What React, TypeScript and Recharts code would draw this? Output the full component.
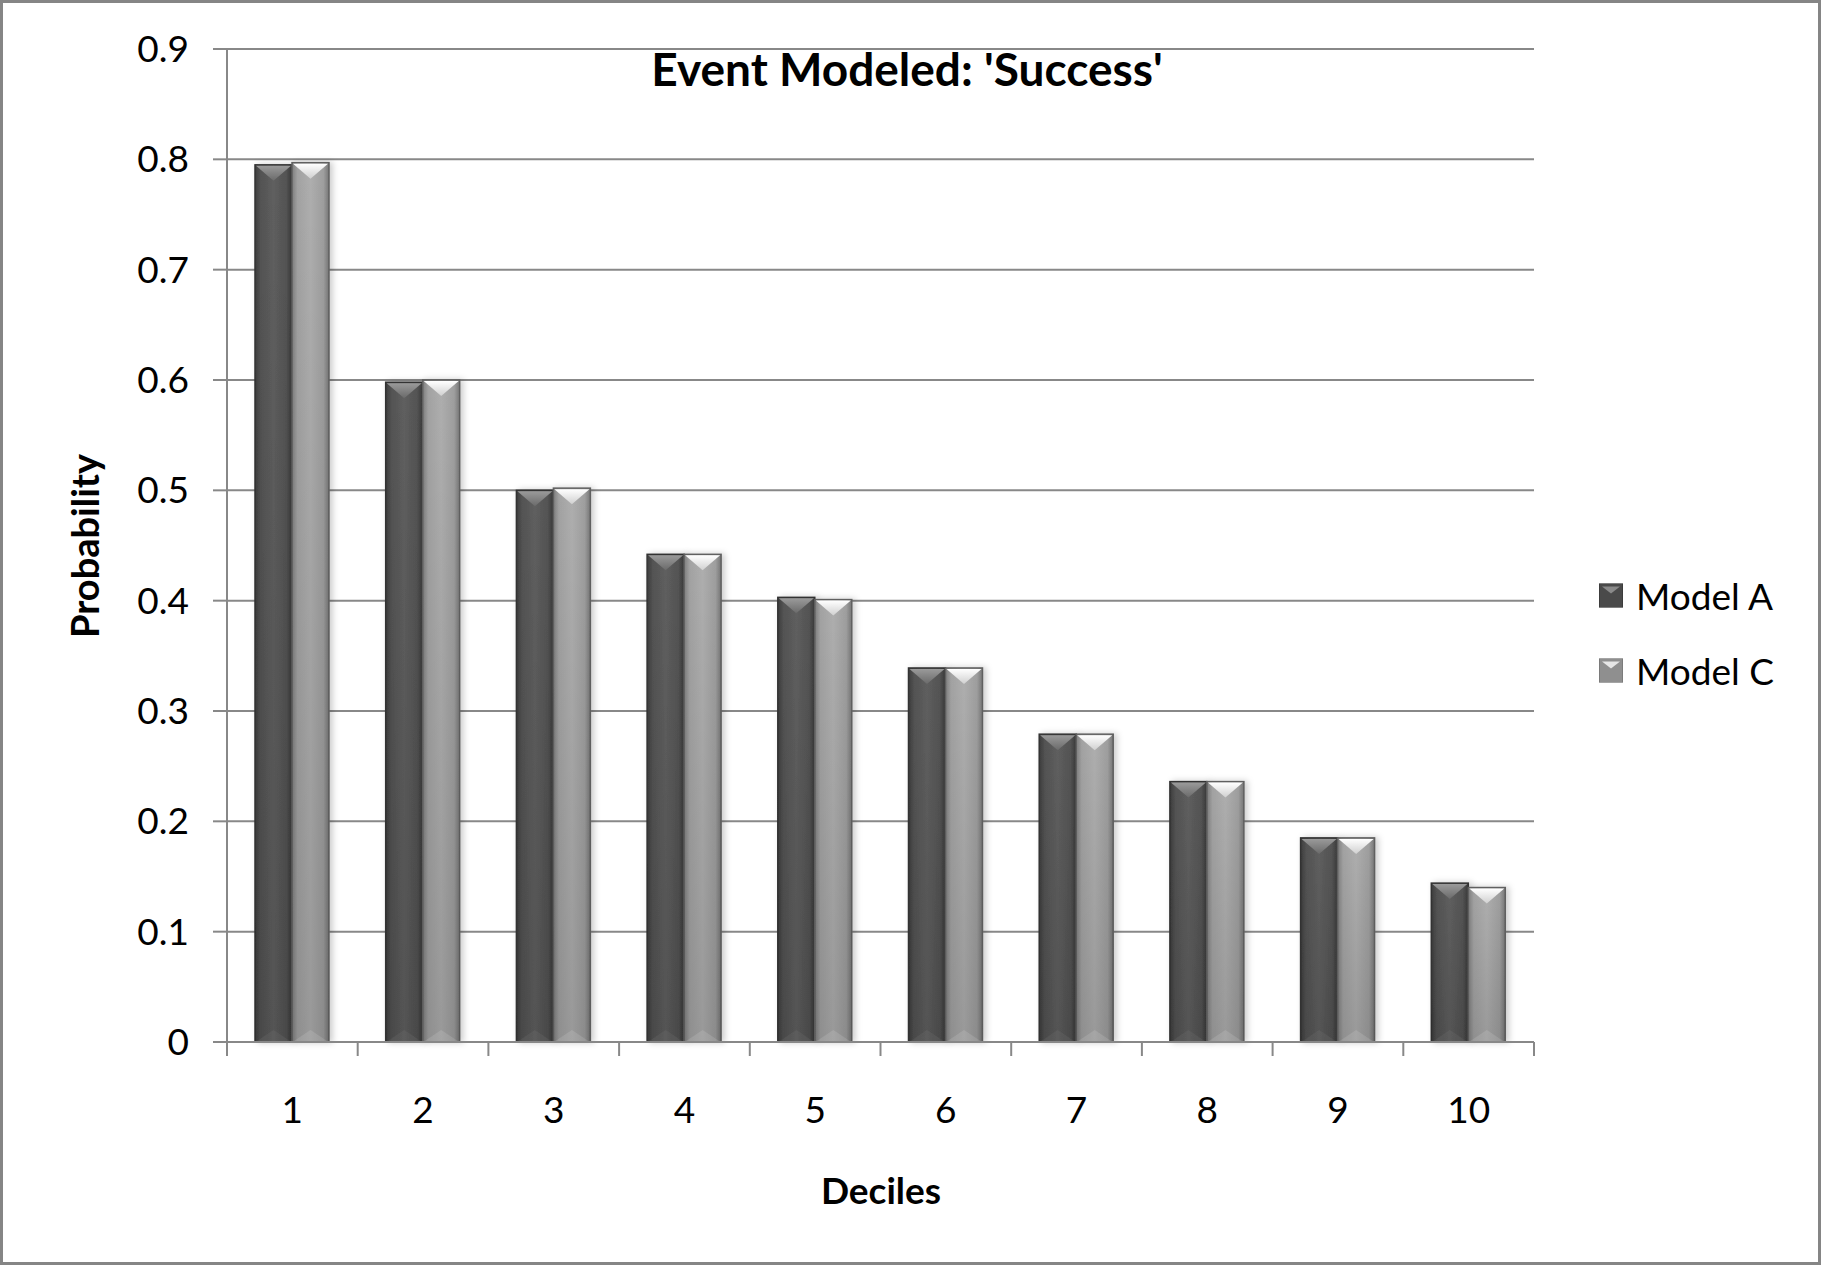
import { BarChart, Bar, XAxis, YAxis, CartesianGrid } from "recharts";

const DECILES = ["1", "2", "3", "4", "5", "6", "7", "8", "9", "10"];
const MODEL_A = [0.795, 0.598, 0.5, 0.442, 0.403, 0.339, 0.279, 0.236, 0.185, 0.144];
const MODEL_C = [0.797, 0.6, 0.502, 0.442, 0.401, 0.339, 0.279, 0.236, 0.185, 0.14];
const Y_TICKS = [0, 0.1, 0.2, 0.3, 0.4, 0.5, 0.6, 0.7, 0.8, 0.9];
const SERIES = ["Model A", "Model C"];

const data = DECILES.map((d, i) => ({ decile: d, a: MODEL_A[i], c: MODEL_C[i] }));

const W = 1821;
const H = 1265;
const PLOT_L = 227;
const PLOT_R = 1534;
const PLOT_T = 49;
const PLOT_B = 1042;
const HALF_BAND = (PLOT_R - PLOT_L) / DECILES.length / 2;
const FONT = "Lato, 'Open Sans', sans-serif";
const AXIS = "#888888";

const XTick = (props: any) => {
  const { x, y, payload, index } = props;
  return (
    <g>
      <line x1={x - HALF_BAND} x2={x - HALF_BAND} y1={y} y2={y + 14} stroke={AXIS} strokeWidth={2} />
      {index === DECILES.length - 1 && (
        <line x1={x + HALF_BAND} x2={x + HALF_BAND} y1={y} y2={y + 14} stroke={AXIS} strokeWidth={2} />
      )}
      <text x={x} y={y + 66} textAnchor="middle" dominantBaseline="central" fontSize={37} fontFamily={FONT} fill="#000">
        {payload.value}
      </text>
    </g>
  );
};

// bevelled bar with the little chevron on top, like the old office 3d look
const makeShape = (dark: boolean) => (props: any) => {
  const { x, y, width, height } = props;
  if (!height || height <= 0) return null;
  const id = dark ? "dark" : "light";
  return (
    <g filter="url(#shadow)">
      <rect x={x} y={y} width={width} height={height} fill={`url(#g-${id})`} stroke={dark ? "#333" : "#606060"} strokeWidth={1.5} />
      <rect x={x} y={y} width={width} height={height} fill="url(#g-shade)" />
      <polygon
        points={`${x + 1},${y + 1} ${x + width - 1},${y + 1} ${x + width / 2},${y + 16}`}
        fill={dark ? "url(#g-chev-dark)" : "url(#g-chev-light)"}
      />
      <polygon
        points={`${x + 2},${y + height - 1} ${x + width - 2},${y + height - 1} ${x + width / 2},${y + height - 12}`}
        fill={dark ? "rgba(255,255,255,0.05)" : "rgba(255,255,255,0.12)"}
      />
    </g>
  );
};

const LegendSwatch = ({ dark }: { dark: boolean }) => (
  <svg width={24} height={24} style={{ display: "block" }}>
    <rect x={0} y={0} width={24} height={24} fill={dark ? "#4a4a4a" : "#8f8f8f"} stroke={dark ? "#2e2e2e" : "#666"} />
    <polygon points="3,3 21,3 12,10" fill={dark ? "#8a8a8a" : "#e6e6e6"} />
  </svg>
);

export default function App() {
  return (
    <div style={{ position: "absolute", left: 0, top: 0, width: W, height: H, background: "#fff" }}>
      <BarChart
        width={W}
        height={H}
        data={data}
        margin={{ top: PLOT_T, right: W - PLOT_R, left: PLOT_L - 100, bottom: H - PLOT_B - 100 }}
        barGap={0}
        barSize={37}
      >
        <defs>
          <linearGradient id="g-dark" x1="0" y1="0" x2="1" y2="0">
            <stop offset="0%" stopColor="#3c3c3c" />
            <stop offset="15%" stopColor="#535353" />
            <stop offset="50%" stopColor="#5f5f5f" />
            <stop offset="85%" stopColor="#535353" />
            <stop offset="100%" stopColor="#3a3a3a" />
          </linearGradient>
          <linearGradient id="g-light" x1="0" y1="0" x2="1" y2="0">
            <stop offset="0%" stopColor="#7e7e7e" />
            <stop offset="15%" stopColor="#a2a2a2" />
            <stop offset="50%" stopColor="#aeaeae" />
            <stop offset="85%" stopColor="#9e9e9e" />
            <stop offset="100%" stopColor="#767676" />
          </linearGradient>
          <linearGradient id="g-shade" x1="0" y1="0" x2="0" y2="1">
            <stop offset="0%" stopColor="#000" stopOpacity={0} />
            <stop offset="100%" stopColor="#000" stopOpacity={0.12} />
          </linearGradient>
          <linearGradient id="g-chev-dark" x1="0" y1="0" x2="0" y2="1">
            <stop offset="0%" stopColor="#9a9a9a" />
            <stop offset="100%" stopColor="#6a6a6a" />
          </linearGradient>
          <linearGradient id="g-chev-light" x1="0" y1="0" x2="0" y2="1">
            <stop offset="0%" stopColor="#ffffff" />
            <stop offset="100%" stopColor="#d0d0d0" />
          </linearGradient>
          <filter id="shadow" x="-30%" y="-5%" width="160%" height="110%">
            <feDropShadow dx={3} dy={0} stdDeviation={3} floodColor="#000" floodOpacity={0.2} />
          </filter>
        </defs>
        <CartesianGrid vertical={false} stroke={AXIS} strokeWidth={2} />
        <XAxis
          dataKey="decile"
          height={100}
          axisLine={{ stroke: AXIS, strokeWidth: 2 }}
          tickLine={false}
          tickSize={0}
          tickMargin={0}
          interval={0}
          tick={<XTick />}
        />
        <YAxis
          width={100}
          domain={[0, 0.9]}
          ticks={Y_TICKS}
          interval={0}
          axisLine={{ stroke: AXIS, strokeWidth: 2 }}
          tickLine={{ stroke: AXIS, strokeWidth: 2 }}
          tickSize={14}
          tickMargin={24}
          tick={{ fontSize: 37, fontFamily: FONT, fill: "#000" }}
        />
        <Bar dataKey="a" name={SERIES[0]} shape={makeShape(true)} isAnimationActive={false} />
        <Bar dataKey="c" name={SERIES[1]} shape={makeShape(false)} isAnimationActive={false} />
      </BarChart>

      <div
        style={{
          position: "absolute",
          left: 907,
          top: 68,
          transform: "translate(-50%, -50%)",
          fontFamily: FONT,
          fontWeight: 700,
          fontSize: 46,
          whiteSpace: "nowrap",
        }}
      >
        Event Modeled: 'Success'
      </div>
      <div
        style={{
          position: "absolute",
          left: 84,
          top: 546,
          transform: "translate(-50%, -50%) rotate(-90deg)",
          fontFamily: FONT,
          fontWeight: 700,
          fontSize: 38,
          whiteSpace: "nowrap",
        }}
      >
        Probability
      </div>
      <div
        style={{
          position: "absolute",
          left: 881,
          top: 1189,
          transform: "translate(-50%, -50%)",
          fontFamily: FONT,
          fontWeight: 700,
          fontSize: 37,
          whiteSpace: "nowrap",
        }}
      >
        Deciles
      </div>

      {SERIES.map((s, i) => (
        <div
          key={s}
          style={{
            position: "absolute",
            left: 1599,
            top: 595 + i * 75,
            transform: "translateY(-50%)",
            display: "flex",
            alignItems: "center",
            gap: 13,
            fontFamily: FONT,
            fontSize: 37,
            whiteSpace: "nowrap",
          }}
        >
          <LegendSwatch dark={i === 0} />
          <span>{s}</span>
        </div>
      ))}

      <div
        style={{
          position: "absolute",
          left: 0,
          top: 0,
          width: W,
          height: H,
          boxSizing: "border-box",
          border: "3px solid #858585",
          pointerEvents: "none",
        }}
      />
    </div>
  );
}
